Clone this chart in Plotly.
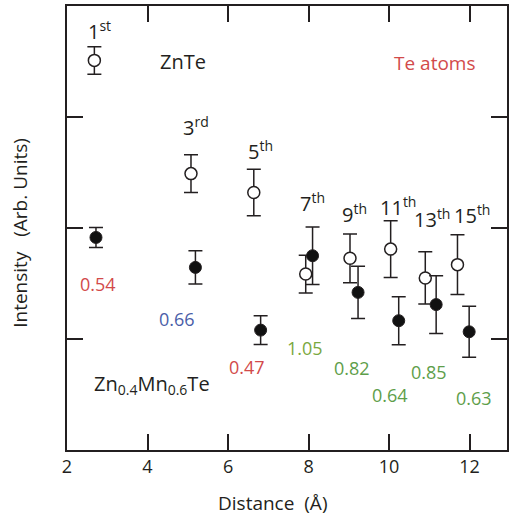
import plotly.graph_objects as go

# ZnTe (open circles)
znte_x = [2.68, 5.08, 6.64, 7.93, 9.03, 10.04, 10.90, 11.70]
znte_y = [3.51, 2.49, 2.32, 1.585, 1.727, 1.81, 1.55, 1.67]
znte_err = [0.124, 0.17, 0.21, 0.17, 0.22, 0.255, 0.235, 0.27]

# Zn0.4Mn0.6Te (filled circles)
mn_x = [2.72, 5.19, 6.81, 8.10, 9.23, 10.24, 11.17, 11.99]
mn_y = [1.915, 1.645, 1.08, 1.75, 1.42, 1.165, 1.31, 1.065]
mn_err = [0.09, 0.15, 0.13, 0.26, 0.235, 0.216, 0.26, 0.23]

# shell order labels
order_labels = ["1<sup>st</sup>", "3<sup>rd</sup>", "5<sup>th</sup>", "7<sup>th</sup>",
                "9<sup>th</sup>", "11<sup>th</sup>", "13<sup>th</sup>", "15<sup>th</sup>"]
order_x = [2.81, 5.21, 6.81, 8.10, 9.14, 10.22, 11.06, 12.07]
order_y = [3.78, 2.91, 2.70, 2.23, 2.13, 2.19, 2.09, 2.12]

# ratio labels
ratio_labels = ["0.54", "0.66", "0.47", "1.05", "0.82", "0.64", "0.85", "0.63"]
ratio_x = [2.77, 4.74, 6.47, 7.90, 9.09, 10.02, 10.99, 12.10]
ratio_y = [1.50, 1.18, 0.75, 0.92, 0.74, 0.50, 0.70, 0.47]
ratio_colors = ["#d24a4a", "#4a5ea8", "#d24a4a", "#7aa840", "#5e9e4a", "#5e9e4a", "#5e9e4a", "#5e9e4a"]

FONT = "Open Sans"
DARK = "#231f20"

fig = go.Figure()
fig.add_trace(go.Scatter(
    x=znte_x, y=znte_y, mode="markers",
    error_y=dict(type="data", array=znte_err, color=DARK, thickness=1.5, width=7),
    marker=dict(symbol="circle", size=12, color="white", line=dict(color=DARK, width=1.5)),
    showlegend=False))
fig.add_trace(go.Scatter(
    x=mn_x, y=mn_y, mode="markers",
    error_y=dict(type="data", array=mn_err, color=DARK, thickness=1.5, width=7),
    marker=dict(symbol="circle", size=12, color="#111111", line=dict(color=DARK, width=1)),
    showlegend=False))

for t, x, y in zip(order_labels, order_x, order_y):
    fig.add_annotation(x=x, y=y, xref="x", yref="y", text=t, showarrow=False,
                       font=dict(family=FONT, size=20, color=DARK))
for t, x, y, c in zip(ratio_labels, ratio_x, ratio_y, ratio_colors):
    fig.add_annotation(x=x, y=y, xref="x", yref="y", text=t, showarrow=False,
                       font=dict(family=FONT, size=18, color=c))

fig.add_annotation(x=4.89, y=3.50, xref="x", yref="y", text="ZnTe", showarrow=False,
                   font=dict(family=FONT, size=20, color=DARK))
fig.add_annotation(x=11.14, y=3.49, xref="x", yref="y", text="Te atoms", showarrow=False,
                   font=dict(family=FONT, size=19, color="#d24a4a"))
fig.add_annotation(x=4.12, y=0.59, xref="x", yref="y",
                   text="Zn<sub>0.4</sub>Mn<sub>0.6</sub>Te", showarrow=False,
                   font=dict(family=FONT, size=20, color=DARK))

# axis titles
fig.add_annotation(x=-0.106, y=0.49, xref="paper", yref="paper", textangle=-90,
                   xanchor="center", yanchor="middle",
                   text="Intensity\u00a0\u00a0\u00a0(Arb. Units)", showarrow=False,
                   font=dict(family=FONT, size=19, color=DARK))
fig.add_annotation(x=0.466, y=-0.12, xref="paper", yref="paper",
                   xanchor="center", yanchor="middle",
                   text="Distance\u00a0\u00a0(Å)", showarrow=False,
                   font=dict(family=FONT, size=19, color=DARK))

axis_common = dict(showline=True, linecolor=DARK, linewidth=1.5, mirror="ticks",
                   ticks="inside", ticklen=16, tickwidth=1.5, tickcolor=DARK,
                   showgrid=False, zeroline=False)
fig.update_xaxes(range=[2, 12.93], tickvals=[2, 4, 6, 8, 10, 12],
                 tickfont=dict(family=FONT, size=18, color=DARK), **axis_common)
fig.update_yaxes(range=[0, 4], tickvals=[1, 2, 3], showticklabels=False, **axis_common)

fig.update_layout(width=509, height=519, margin=dict(l=67, r=0, t=6, b=69),
                  plot_bgcolor="white", paper_bgcolor="white",
                  font=dict(family=FONT, color=DARK))
fig.write_html("out.html", config={"displayModeBar": False},
               post_script="document.body.style.margin='0';")
